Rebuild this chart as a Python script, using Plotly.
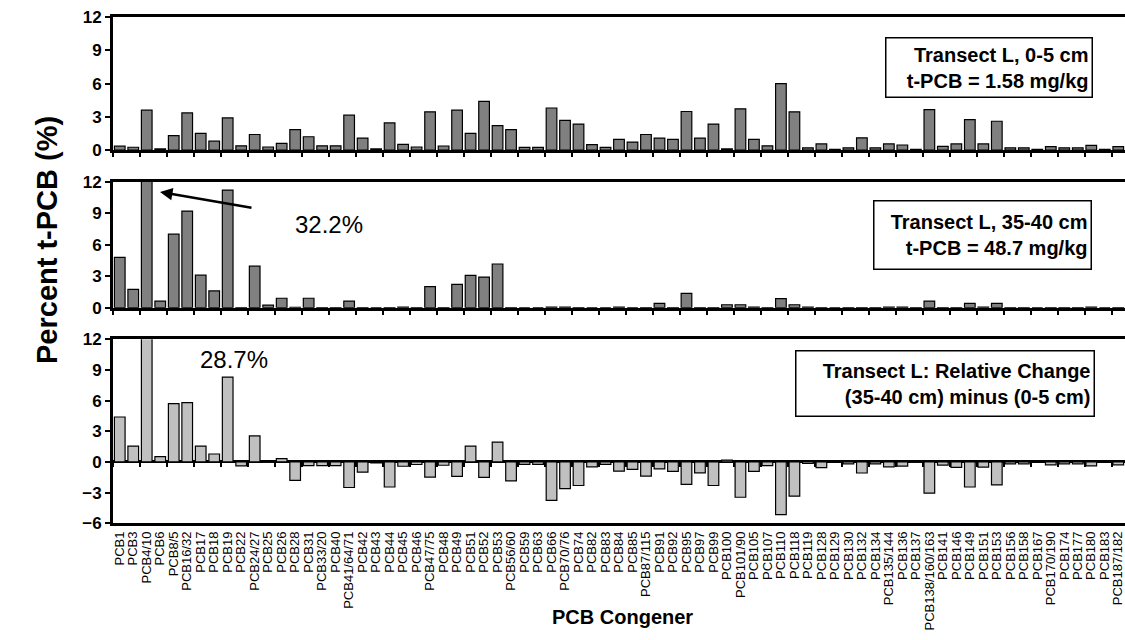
import plotly.graph_objects as go

categories = ["PCB1", "PCB3", "PCB4/10", "PCB6", "PCB8/5", "PCB16/32", "PCB17", "PCB18", "PCB19", "PCB22",
              "PCB24/27", "PCB25", "PCB26", "PCB28", "PCB31", "PCB33/20", "PCB40", "PCB41/64/71", "PCB42", "PCB43",
              "PCB44", "PCB45", "PCB46", "PCB47/75", "PCB48", "PCB49", "PCB51", "PCB52", "PCB53", "PCB56/60",
              "PCB59", "PCB63", "PCB66", "PCB70/76", "PCB74", "PCB82", "PCB83", "PCB84", "PCB85", "PCB87/115",
              "PCB91", "PCB92", "PCB95", "PCB97", "PCB99", "PCB100", "PCB101/90", "PCB105", "PCB107", "PCB110",
              "PCB118", "PCB119", "PCB128", "PCB129", "PCB130", "PCB132", "PCB134", "PCB135/144", "PCB136", "PCB137",
              "PCB138/160/163", "PCB141", "PCB146", "PCB149", "PCB151", "PCB153", "PCB156", "PCB158", "PCB167", "PCB170/190",
              "PCB174", "PCB177", "PCB180", "PCB183", "PCB187/182"]

surface_0_5cm = [0.35, 0.25, 3.6, 0.1, 1.3, 3.35, 1.5, 0.8, 2.9, 0.38,
                 1.4, 0.27, 0.6, 1.85, 1.2, 0.38, 0.38, 3.15, 1.08, 0.1,
                 2.45, 0.5, 0.27, 3.45, 0.36, 3.6, 1.5, 4.4, 2.2, 1.85,
                 0.24, 0.24, 3.8, 2.67, 2.34, 0.48, 0.24, 0.96, 0.72, 1.4,
                 1.08, 0.96, 3.48, 1.08, 2.34, 0.1, 3.72, 0.96, 0.38, 6.0,
                 3.45, 0.2, 0.55, 0.05, 0.2, 1.1, 0.2, 0.55, 0.45, 0.05,
                 3.65, 0.33, 0.55, 2.75, 0.55, 2.6, 0.2, 0.2, 0.05, 0.3,
                 0.2, 0.2, 0.42, 0.05, 0.3]

deep_35_40cm = [4.8, 1.75, 32.2, 0.63, 7.0, 9.2, 3.1, 1.6, 11.2, 0.02,
                3.95, 0.25, 0.9, 0.03, 0.9, 0.02, 0.02, 0.63, 0.02, 0.0,
                0.02, 0.05, 0.02, 2.0, 0.02, 2.22, 3.08, 2.92, 4.16, 0.02,
                0.0, 0.0, 0.05, 0.05, 0.02, 0.0, 0.0, 0.05, 0.0, 0.02,
                0.41, 0.02, 1.37, 0.02, 0.02, 0.28, 0.28, 0.05, 0.02, 0.86,
                0.28, 0.05, 0.02, 0.0, 0.02, 0.02, 0.02, 0.05, 0.05, 0.02,
                0.63, 0.02, 0.02, 0.41, 0.05, 0.41, 0.02, 0.02, 0.0, 0.02,
                0.02, 0.02, 0.05, 0.0, 0.02]

relative_change = [4.4, 1.55, 28.7, 0.52, 5.7, 5.8, 1.55, 0.78, 8.3, -0.38,
                   2.55, -0.03, 0.32, -1.8, -0.35, -0.36, -0.36, -2.5, -1.0, -0.1,
                   -2.45, -0.42, -0.25, -1.48, -0.32, -1.4, 1.55, -1.5, 1.95, -1.85,
                   -0.24, -0.24, -3.75, -2.6, -2.3, -0.48, -0.24, -0.9, -0.72, -1.38,
                   -0.68, -0.92, -2.2, -1.06, -2.3, 0.18, -3.45, -0.92, -0.36, -5.15,
                   -3.35, -0.15, -0.55, -0.05, -0.18, -1.08, -0.18, -0.48, -0.4, -0.03,
                   -3.05, -0.3, -0.52, -2.45, -0.5, -2.25, -0.18, -0.18, -0.05, -0.28,
                   -0.18, -0.18, -0.38, -0.05, -0.28]

y_ticks_pos = [0, 3, 6, 9, 12]
y_ticks_all = [-6, -3, 0, 3, 6, 9, 12]

FONT = "Liberation Sans, Arial, Helvetica, sans-serif"

fig = go.Figure()

bar_line = dict(color="black", width=1.2)
fig.add_trace(go.Bar(x=categories, y=surface_0_5cm, xaxis="x", yaxis="y",
                     marker=dict(color="#808080", line=bar_line), width=0.79, hoverinfo="x+y"))
fig.add_trace(go.Bar(x=categories, y=deep_35_40cm, xaxis="x2", yaxis="y2",
                     marker=dict(color="#808080", line=bar_line), width=0.79, hoverinfo="x+y"))
fig.add_trace(go.Bar(x=categories, y=relative_change, xaxis="x3", yaxis="y3",
                     marker=dict(color="#C0C0C0", line=bar_line), width=0.79, hoverinfo="x+y"))
# invisible copy to carry the tick marks on the zero line of the bottom panel
fig.add_trace(go.Bar(x=categories, y=relative_change, xaxis="x4", yaxis="y3",
                     marker=dict(color="rgba(0,0,0,0)", line=dict(width=0)), width=0.79,
                     hoverinfo="skip"))

dom_top = [1 - 150 / 640, 1 - 17.3 / 640]
dom_mid = [1 - 307.7 / 640, 1 - 181.7 / 640]
dom_bot = [1 - 523.3 / 640, 1 - 339.3 / 640]
zero_bot = dom_bot[0] + (dom_bot[1] - dom_bot[0]) * 6 / 18

common_x = dict(type="category", categoryorder="array", categoryarray=categories,
                range=[-0.5, len(categories) - 0.5], showgrid=False, zeroline=False,
                showline=True, linecolor="black", linewidth=3, mirror=True, automargin=False)
fig.update_layout(
    xaxis=dict(common_x, anchor="y", ticks="outside", tickson="boundaries", ticklen=4,
               tickwidth=2, tickcolor="black", showticklabels=False),
    xaxis2=dict(common_x, anchor="y2", ticks="outside", tickson="boundaries", ticklen=4,
                tickwidth=2, tickcolor="black", showticklabels=False),
    xaxis3=dict(common_x, anchor="y3", ticks="", tickangle=-90,
                tickmode="array", tickvals=categories, ticktext=categories,
                tickfont=dict(family=FONT, size=13, color="black")),
    xaxis4=dict(type="category", categoryorder="array", categoryarray=categories,
                range=[-0.5, len(categories) - 0.5], overlaying="x3", anchor="free",
                position=zero_bot, side="bottom", showline=False, showgrid=False, zeroline=False,
                ticks="outside", tickson="boundaries", ticklen=4, tickwidth=2, tickcolor="black",
                showticklabels=False, automargin=False),
)

common_y = dict(showgrid=False, showline=True, linecolor="black", linewidth=3,
                ticks="outside", ticklen=5, tickwidth=2, tickcolor="black", automargin=False,
                tickfont=dict(family=FONT, size=17, color="black", weight="bold"))
fig.update_layout(
    yaxis=dict(common_y, domain=dom_top, range=[0, 12], tickvals=y_ticks_pos, zeroline=False, anchor="x"),
    yaxis2=dict(common_y, domain=dom_mid, range=[0, 12], tickvals=y_ticks_pos, zeroline=False, anchor="x2"),
    yaxis3=dict(common_y, domain=dom_bot, range=[-6, 12], tickvals=y_ticks_all, zeroline=True,
                zerolinecolor="black", zerolinewidth=3, anchor="x3"),
)

def px_x(px):
    return (px - 113) / 1012

def px_y(py):
    return 1 - py / 640

box_font = dict(family=FONT, size=20, color="black", weight="bold")
annotations = [
    dict(text="Transect L, 0-5 cm<br>t-PCB = 1.58 mg/kg", x=px_x(1093), y=px_y(67),
         xanchor="right", yanchor="middle", width=199, height=52),
    dict(text="Transect L, 35-40 cm<br>t-PCB = 48.7 mg/kg", x=px_x(1092), y=px_y(234.5),
         xanchor="right", yanchor="middle", width=210, height=61),
    dict(text="Transect L: Relative Change<br>(35-40 cm) minus (0-5 cm)", x=px_x(1095), y=px_y(383),
         xanchor="right", yanchor="middle", width=291, height=58),
]
for a in annotations:
    fig.add_annotation(xref="paper", yref="paper", showarrow=False, align="right",
                       bordercolor="black", borderwidth=1.5, borderpad=3, bgcolor="white",
                       font=box_font, **a)

fig.add_annotation(xref="paper", yref="paper", x=px_x(293), y=px_y(209), text="32.2%",
                   showarrow=False, font=dict(family=FONT, size=24, color="black"))
fig.add_annotation(xref="paper", yref="paper", x=px_x(198), y=px_y(359), text="28.7%",
                   showarrow=False, font=dict(family=FONT, size=24, color="black"))
fig.add_annotation(xref="paper", yref="paper", x=px_x(160), y=px_y(192), text="",
                   showarrow=True, arrowhead=2, arrowsize=1, arrowwidth=2.5, arrowcolor="black",
                   ax=93, ay=16, standoff=0)

fig.add_annotation(xref="paper", yref="paper", x=px_x(29), y=px_y(240), text="Percent t-PCB (%)",
                   textangle=-90, showarrow=False,
                   font=dict(family=FONT, size=29, color="black", weight="bold"))
fig.add_annotation(xref="paper", yref="paper", x=px_x(622), y=px_y(630), text="PCB Congener",
                   showarrow=False, font=dict(family=FONT, size=20, color="black", weight="bold"))

fig.update_layout(width=1125, height=640, margin=dict(l=113, r=0, t=0, b=0, autoexpand=False),
                  paper_bgcolor="white", plot_bgcolor="white", showlegend=False,
                  bargap=0.2, font=dict(family=FONT, color="black"))

fig.write_html("out.html", config={"displayModeBar": False},
               post_script="document.body.style.margin='0';document.body.style.padding='0';")
